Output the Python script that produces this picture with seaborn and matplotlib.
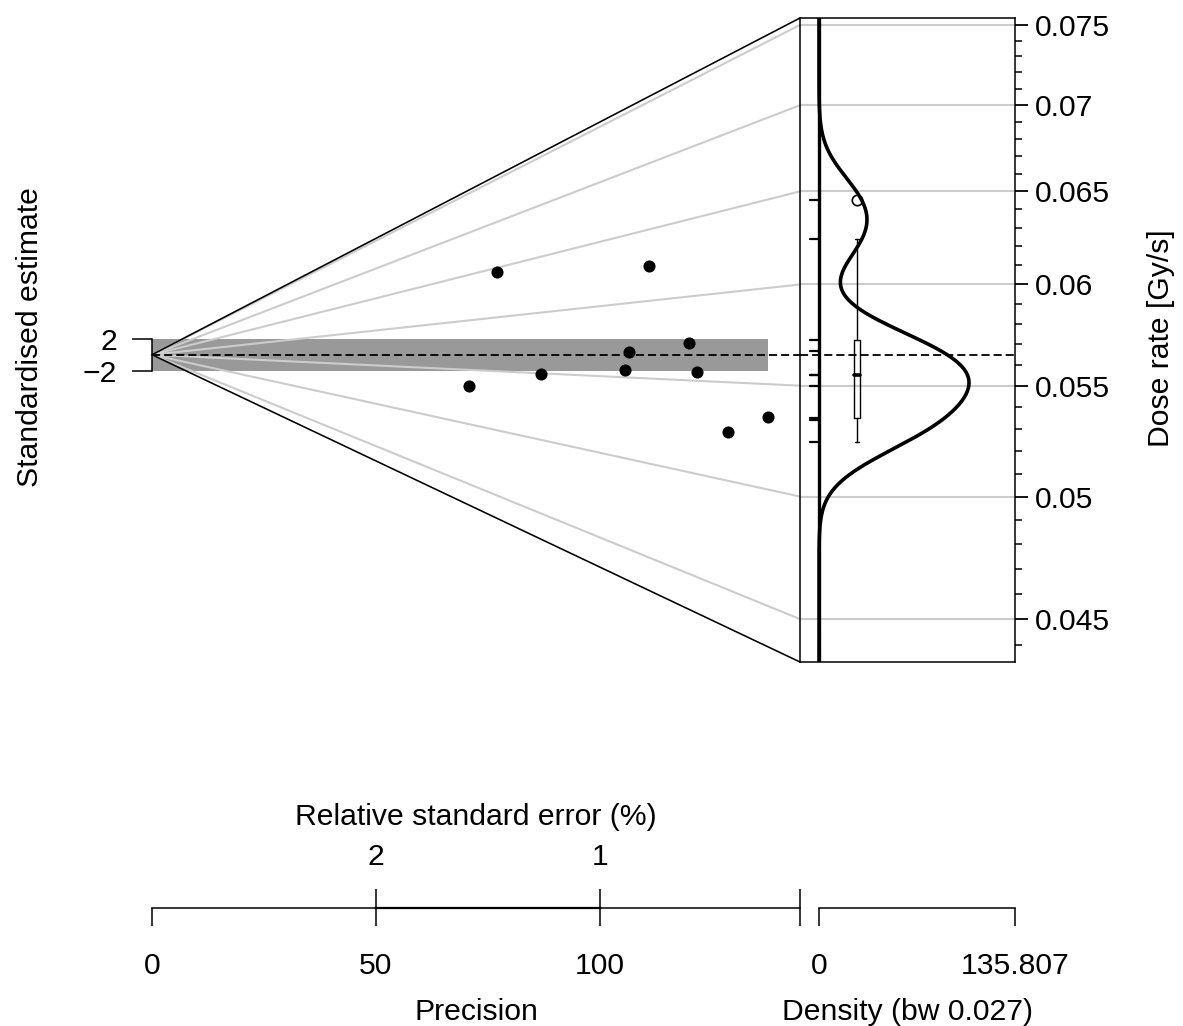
import matplotlib
matplotlib.use("Agg")
import matplotlib.pyplot as plt
from matplotlib.ticker import FixedLocator, FixedFormatter, NullFormatter
import numpy as np
import seaborn as sns

# values
dose_rate = [0.05349, 0.05497, 0.06454, 0.06237, 0.05668,
             0.05549, 0.05719, 0.05550, 0.05240, 0.05338]
precision = [70.8, 86.8, 77.0, 110.9, 106.5,
             105.6, 119.9, 121.7, 128.6, 137.5]

z_ticks = [0.045, 0.05, 0.055, 0.06, 0.065, 0.07, 0.075]
z_labels = ['0.045', '0.05', '0.055', '0.06', '0.065', '0.07', '0.075']
z_lim = (0.04337, 0.07545)
std_ticks = [-2, 2]
std_labels = ['\u22122', '2']
prec_ticks = [0, 50, 100]
prec_labels = ['0', '50', '100']
rse_ticks = [2, 1]
rse_labels = ['2', '1']
dens_labels = ['0', '135.807']
bw = 0.027

# layout (pixels of a 1183x1026 canvas)
W, H = 1183, 1026
PT = 72 / 100          # points per pixel at dpi 100
FS = 21.7
x_edge = (800 - 152) / 4.48   # precision at the right edge of the radial part
y_axis = 908                  # pixel row of the bottom axes


def box(x0, y0, x1, y1):
    '''figure fraction rectangle from pixel corners'''
    return [x0 / W, 1 - y1 / H, (x1 - x0) / W, (y1 - y0) / H]


def fivenum(v):
    '''Tukey five number summary, like R'''
    v = np.sort(v)
    n = len(v)
    n4 = np.floor((n + 3) / 2) / 2
    idx = np.array([1, n4, (n + 1) / 2, n + 1 - n4, n])
    return 0.5 * (v[np.floor(idx).astype(int) - 1] + v[np.ceil(idx).astype(int) - 1])


sns.set_style('ticks', {'axes.edgecolor': 'black', 'xtick.color': 'black',
                        'ytick.color': 'black', 'text.color': 'black',
                        'axes.labelcolor': 'black'})
plt.rcParams['font.family'] = ['Liberation Sans', 'DejaVu Sans']
plt.rcParams['font.size'] = FS
plt.rcParams['axes.labelsize'] = FS
plt.rcParams['xtick.labelsize'] = FS
plt.rcParams['ytick.labelsize'] = FS
plt.rcParams['axes.linewidth'] = 1.1
plt.rcParams['axes.unicode_minus'] = True

log_z = np.log(dose_rate)
zc = np.mean(log_z)
std_est = (log_z - zc) * np.array(precision)

fig = plt.figure(figsize=(W / 100, H / 100), dpi=100)

# ---- radial part ----
ax = fig.add_axes(box(152, 18, 800, 662))
ax.patch.set_visible(False)
y_lo = (np.log(z_lim[0]) - zc) * x_edge
y_hi = (np.log(z_lim[1]) - zc) * x_edge

ax.fill_between([0, max(precision)], std_ticks[0], std_ticks[1],
                color='#999999', lw=0, zorder=1)
for v in z_ticks:
    ax.plot([0, x_edge], [0, (np.log(v) - zc) * x_edge],
            color='#cccccc', lw=1.5, zorder=2)
for yy in (y_lo, y_hi):
    ax.plot([0, x_edge], [0, yy], color='black', lw=1.15, zorder=3, clip_on=False)
ax.plot([0, x_edge], [0, 0], color='black', lw=1.3, dashes=(4.5, 2.2), zorder=3)
sns.scatterplot(x=precision, y=std_est, ax=ax, color='black', s=76,
                linewidth=0, zorder=4, legend=False)

for s in ('top', 'right', 'bottom'):
    ax.spines[s].set_visible(False)
ax.spines['left'].set_bounds(std_ticks[0], std_ticks[1])
ax.set_xticks([])
ax.set_yticks(std_ticks)
ax.set_yticklabels(std_labels)
ax.tick_params(axis='y', length=20 * PT, width=1.1, pad=15 * PT)
ax.set_xlim(0, x_edge)
ax.set_ylim(y_lo, y_hi)

# ---- density part ----
axd = fig.add_axes(box(800, 18, 1015, 662))
bw_factor = bw / np.std(log_z, ddof=1)
sns.kdeplot(y=dose_rate, ax=axd, log_scale=True, bw_method=bw_factor,
            cut=12, gridsize=600, color='black', lw=2.6, zorder=4)
peak = axd.lines[-1].get_xdata().max()
d_max = peak * 196 / 150
d_min = -d_max * 19 / 196

axd.axvline(0, color='black', lw=2.4, zorder=3)
for v in z_ticks:
    axd.axhline(v, color='#cccccc', lw=1.5, zorder=0)
axd.axhline(np.exp(zc), color='black', lw=1.3, dashes=(4.5, 2.2), zorder=2)

trans = axd.get_yaxis_transform()
for v in dose_rate:
    axd.plot([10 / 215, 19 / 215], [v, v], transform=trans, color='black', lw=1.6)

lo, q1, med, q3, hi = fivenum(dose_rate)
iqr = q3 - q1
inside = [v for v in dose_rate if q1 - 1.5 * iqr <= v <= q3 + 1.5 * iqr]
outside = [v for v in dose_rate if v not in inside]
cx, hw, cap = 57 / 215, 3 / 215, 2 / 215
kw = dict(transform=trans, color='black', lw=1.0, zorder=5)
axd.plot([cx, cx], [min(inside), q1], **kw)
axd.plot([cx, cx], [q3, max(inside)], **kw)
axd.plot([cx - cap, cx + cap], [min(inside)] * 2, **kw)
axd.plot([cx - cap, cx + cap], [max(inside)] * 2, **kw)
axd.plot([cx - hw, cx + hw, cx + hw, cx - hw, cx - hw], [q1, q1, q3, q3, q1], **kw)
axd.plot([cx - hw, cx + hw], [med, med], transform=trans, color='black', lw=2.6, zorder=5)
axd.plot([cx] * len(outside), outside, 'o', transform=trans, mfc='none',
         mec='black', ms=7.5, mew=1.2, zorder=5)

axd.yaxis.tick_right()
axd.yaxis.set_major_locator(FixedLocator(z_ticks))
axd.yaxis.set_major_formatter(FixedFormatter(z_labels))
minor = [m for m in np.round(np.arange(0.044, 0.0745, 0.001), 3)
         if not np.any(np.isclose(m, z_ticks))]
axd.yaxis.set_minor_locator(FixedLocator(minor))
axd.yaxis.set_minor_formatter(NullFormatter())
axd.tick_params(axis='y', which='major', length=13 * PT, width=1.3, pad=7 * PT)
axd.tick_params(axis='y', which='minor', length=7 * PT, width=1.1)
axd.set_xticks([])
axd.set_xlabel('')
axd.set_ylabel('')
axd.set_xlim(d_min, d_max)
axd.set_ylim(*z_lim)

# ---- bottom axes: precision and relative standard error ----
axp = fig.add_axes([152 / W, 1 - y_axis / H, (800 - 152) / W, 1e-4])
axp.patch.set_visible(False)
for s in ('left', 'right', 'top'):
    axp.spines[s].set_visible(False)
axp.set_yticks([])
axp.set_xlim(0, x_edge)
axp.set_xticks(prec_ticks + [x_edge])
axp.set_xticklabels(prec_labels + [''])
axp.tick_params(axis='x', length=18 * PT, width=1.1, pad=26.5 * PT)
axp.set_xlabel('Precision', labelpad=17 * PT)

axr = axp.twiny()
axr.patch.set_visible(False)
for s in ('left', 'right', 'bottom'):
    axr.spines[s].set_visible(False)
axr.set_xlim(0, x_edge)
rse_pos = [100 / r for r in rse_ticks]
axr.set_xticks(rse_pos + [x_edge])
axr.set_xticklabels(rse_labels + [''])
axr.spines['top'].set_bounds(min(rse_pos), max(rse_pos))
axr.spines['top'].set_linewidth(1.6)
axr.tick_params(axis='x', length=19 * PT, width=1.1, pad=18.3 * PT)
axr.set_xlabel('Relative standard error (%)', labelpad=17.5 * PT)

axb = fig.add_axes([800 / W, 1 - y_axis / H, 215 / W, 1e-4])
axb.patch.set_visible(False)
for s in ('left', 'right', 'top'):
    axb.spines[s].set_visible(False)
axb.set_yticks([])
axb.set_xlim(d_min, d_max)
axb.set_xticks([0, d_max])
axb.set_xticklabels(dens_labels)
axb.spines['bottom'].set_bounds(0, d_max)
axb.tick_params(axis='x', length=18 * PT, width=1.1, pad=26.5 * PT)
axb.set_xlabel(f'Density (bw {bw})', labelpad=17 * PT)

fig.text(30 / W, 1 - 337 / H, 'Standardised estimate', rotation=90,
         ha='center', va='center')
fig.text(1161 / W, 1 - 338 / H, 'Dose rate [Gy/s]', rotation=90,
         ha='center', va='center')

fig.savefig('out.png', dpi=100)
